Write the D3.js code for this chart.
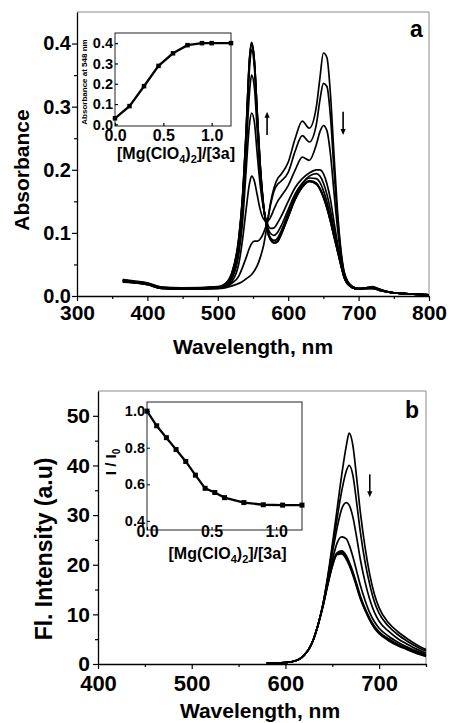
<!DOCTYPE html>
<html>
<head>
<meta charset="utf-8">
<script src="https://cdn.jsdelivr.net/npm/d3@7"></script>
<style>
  body { margin: 0; background: #fff; }
  svg text { font-family: "Liberation Sans", Arial, sans-serif; font-weight: bold; fill: #000; }
</style>
</head>
<body>
<svg id="fig" width="450" height="723"></svg>
<script>
// ---- panel a: absorption spectra, wavelengths (nm)
const absWl = [365, 380, 400, 420, 450, 500, 510, 520, 530, 535, 540, 545, 548, 552, 556, 560, 565, 570, 575, 580,
  585, 590, 600, 610, 620, 630, 640, 645, 650, 655, 660, 665, 670, 675, 680, 690, 700, 710, 720, 730, 750, 800];

const absSpectra = [
  [.022, .021, .018, .012, .011, .012, .013, .016, .020, .023, .027, .031, .034, .040, .048, .060, .080, .112, .148, .172,
   .186, .193, .212, .250, .277, .266, .300, .345, .385, .378, .320, .225, .135, .072, .036, .016, .012, .013, .015, .011, .005, .002],
  [.023, .021, .018, .012, .011, .012, .014, .020, .032, .045, .060, .076, .083, .087, .087, .090, .100, .117, .145, .167,
   .177, .182, .196, .230, .254, .244, .272, .310, .337, .332, .285, .200, .125, .068, .035, .016, .012, .013, .014, .010, .005, .002],
  [.023, .021, .019, .012, .011, .012, .015, .023, .052, .088, .135, .178, .190, .182, .160, .138, .122, .118, .125, .138,
   .150, .158, .175, .200, .220, .215, .240, .260, .270, .262, .225, .165, .108, .063, .033, .015, .012, .013, .014, .010, .005, .002],
  [.024, .022, .019, .013, .012, .013, .016, .027, .068, .115, .195, .272, .290, .275, .225, .178, .138, .116, .107, .108,
   .116, .126, .150, .172, .186, .195, .200, .200, .194, .178, .153, .118, .084, .054, .030, .014, .011, .012, .013, .010, .005, .002],
  [.024, .022, .019, .013, .012, .013, .017, .030, .076, .132, .222, .322, .350, .330, .262, .196, .140, .112, .099, .096,
   .101, .111, .137, .162, .179, .190, .194, .190, .179, .161, .136, .106, .078, .051, .029, .014, .011, .012, .013, .010, .005, .002],
  [.025, .022, .019, .013, .012, .014, .018, .033, .085, .146, .243, .360, .390, .362, .282, .206, .142, .108, .092, .088,
   .092, .103, .131, .158, .177, .187, .186, .180, .167, .149, .126, .100, .075, .050, .029, .014, .011, .012, .012, .009, .005, .002],
  [.025, .023, .020, .013, .012, .014, .018, .035, .090, .152, .252, .372, .400, .370, .288, .210, .143, .106, .090, .085,
   .088, .099, .127, .155, .174, .183, .179, .171, .158, .141, .120, .096, .073, .049, .028, .014, .011, .012, .012, .009, .005, .002],
  [.026, .023, .020, .014, .012, .014, .019, .036, .092, .154, .255, .374, .401, .372, .290, .211, .143, .105, .089, .084,
   .087, .098, .126, .154, .173, .182, .178, .170, .157, .140, .119, .095, .072, .048, .028, .014, .011, .012, .012, .009, .005, .002],
  [.026, .024, .021, .014, .013, .015, .019, .037, .094, .156, .257, .376, .402, .373, .291, .212, .144, .105, .089, .084,
   .086, .097, .125, .153, .172, .181, .177, .169, .156, .139, .118, .094, .071, .048, .028, .014, .011, .012, .012, .009, .005, .002]
];

// inset a: absorbance at 548 nm vs ratio
const ratioA = [0, 0.15, 0.3, 0.45, 0.6, 0.75, 0.9, 1.0, 1.2];
const abs548 = [0.030, 0.090, 0.188, 0.288, 0.350, 0.390, 0.400, 0.400, 0.400];

// ---- panel b: fluorescence spectra
const fluWl = [580, 590, 600, 610, 615, 620, 625, 630, 635, 640, 645, 650, 655, 660, 665, 668, 672, 676, 680, 685,
  690, 695, 700, 710, 720, 730, 740, 750];

const fluSpectra = [
  [0.2, 0.2, 0.3, 0.6, 1.0, 1.8, 3.0, 5.0, 8.0, 12.0, 17.5, 24.0, 31.0, 38.0, 44.0, 46.5, 44.0, 37.5, 30.5, 23.5, 18.0, 14.0, 11.3, 8.3, 6.5, 5.1, 3.9, 2.9],
  [0.2, 0.2, 0.3, 0.6, 1.0, 1.8, 3.0, 5.0, 8.0, 12.0, 17.2, 23.2, 29.2, 34.8, 38.9, 40.0, 38.0, 32.5, 26.5, 20.5, 16.0, 12.5, 10.2, 7.6, 5.9, 4.6, 3.5, 2.6],
  [0.2, 0.2, 0.3, 0.6, 1.0, 1.8, 3.0, 5.0, 8.0, 12.0, 16.8, 22.2, 27.3, 31.2, 32.5, 32.0, 29.6, 25.5, 21.0, 16.5, 13.0, 10.4, 8.6, 6.6, 5.1, 4.0, 3.0, 2.2],
  [0.2, 0.2, 0.3, 0.6, 1.0, 1.8, 3.0, 5.0, 8.0, 11.8, 16.3, 20.8, 24.3, 25.6, 25.2, 24.0, 21.6, 18.7, 15.8, 12.8, 10.3, 8.5, 7.2, 5.6, 4.4, 3.4, 2.6, 1.9],
  [0.2, 0.2, 0.3, 0.6, 1.0, 1.8, 3.0, 5.0, 8.0, 11.7, 16.0, 20.0, 22.4, 22.8, 21.8, 20.6, 18.6, 16.2, 13.7, 11.2, 9.2, 7.6, 6.5, 5.1, 4.0, 3.1, 2.3, 1.7],
  [0.2, 0.2, 0.3, 0.6, 1.0, 1.8, 3.0, 5.0, 8.0, 11.6, 15.9, 19.8, 22.2, 22.5, 21.4, 20.2, 18.2, 15.8, 13.4, 11.0, 9.0, 7.4, 6.3, 4.9, 3.8, 3.0, 2.2, 1.6],
  [0.2, 0.2, 0.3, 0.6, 1.0, 1.8, 3.0, 5.0, 8.0, 11.5, 15.8, 19.6, 22.0, 22.2, 21.1, 19.9, 17.9, 15.5, 13.1, 10.8, 8.8, 7.2, 6.1, 4.7, 3.7, 2.9, 2.1, 1.5]
];

// inset b: I/I0 vs ratio
const ratioB = [0, 0.075, 0.15, 0.225, 0.3, 0.375, 0.45, 0.525, 0.6, 0.75, 0.9, 1.05, 1.2];
const relI = [1.0, 0.92, 0.855, 0.79, 0.725, 0.65, 0.578, 0.555, 0.527, 0.50, 0.488, 0.486, 0.486];

// arrows (data units)
const arrowsA = [{ x: 570, from: 0.255, to: 0.292 }, { x: 678, from: 0.292, to: 0.255 }];
const arrowsB = [{ x: 690, from: 38.2, to: 33.6 }];

const svg = d3.select('#fig');

function mainPanel(o) {
  const x = d3.scaleLinear().domain(o.xDom).range([o.l, o.r]);
  const y = d3.scaleLinear().domain(o.yDom).range([o.b, o.t]);

  svg.append('path')
    .attr('d', `M${o.l},${o.t}H${o.r}V${o.b}`)
    .attr('fill', 'none').attr('stroke', '#8c8c8c').attr('stroke-width', 1);

  // minor ticks
  svg.append('g').attr('transform', `translate(0,${o.b})`)
    .call(d3.axisBottom(x).tickValues(o.xMinor).tickSize(3).tickFormat(''))
    .call(g => g.select('.domain').remove());
  svg.append('g').attr('transform', `translate(${o.l},0)`)
    .call(d3.axisLeft(y).tickValues(o.yMinor).tickSize(3).tickFormat(''))
    .call(g => g.select('.domain').remove());

  const gx = svg.append('g').attr('transform', `translate(0,${o.b})`)
    .call(d3.axisBottom(x).tickValues(o.xTicks).tickSize(5).tickSizeOuter(0).tickPadding(o.xPad).tickFormat(d3.format('d')));
  gx.attr('font-size', o.xFont);
  const gy = svg.append('g').attr('transform', `translate(${o.l},0)`)
    .call(d3.axisLeft(y).tickValues(o.yTicks).tickSize(5).tickSizeOuter(0).tickPadding(o.yPad).tickFormat(o.yFmt));
  gy.attr('font-size', o.yFont);
  svg.selectAll('.domain').attr('stroke-width', 1.3);
  svg.selectAll('.tick line').attr('stroke-width', 1.2);

  const line = d3.line().x(d => x(d[0])).y(d => y(d[1])).curve(d3.curveMonotoneX);
  svg.append('g').selectAll('path')
    .data(o.series)
    .join('path')
    .attr('d', s => line(o.wl.map((w, i) => [w, s[i]])))
    .attr('fill', 'none').attr('stroke', '#000').attr('stroke-width', 1.7);

  // arrows
  o.arrows.forEach(a => {
    const ax = x(a.x), y0 = y(a.from), y1 = y(a.to);
    const dir = y1 < y0 ? -1 : 1;
    svg.append('line').attr('x1', ax).attr('x2', ax).attr('y1', y0).attr('y2', y1 - dir * 3)
      .attr('stroke', '#000').attr('stroke-width', 1.6);
    svg.append('path')
      .attr('d', `M${ax - 2.6},${y1 - dir * 6}L${ax},${y1}L${ax + 2.6},${y1 - dir * 6}Z`)
      .attr('fill', '#000');
  });

  svg.append('text').attr('x', o.tag[0]).attr('y', o.tag[1]).attr('font-size', 23).text(o.tagText);
  svg.append('text').attr('x', (o.l + o.r) / 2 + o.xTitleDx).attr('y', o.xTitleY)
    .attr('text-anchor', 'middle').attr('font-size', 21).text('Wavelength, nm');
  svg.append('text').attr('transform', `translate(${o.yTitleX},${o.yTitleY}) rotate(-90)`)
    .attr('text-anchor', 'middle').attr('font-size', o.yTitleFont).text(o.yTitle);
}

function inset(o) {
  const x = d3.scaleLinear().domain(o.xDom).range([o.l, o.r]);
  const y = d3.scaleLinear().domain(o.yDom).range([o.b, o.t]);
  svg.append('rect').attr('x', o.l).attr('y', o.t).attr('width', o.r - o.l).attr('height', o.b - o.t)
    .attr('fill', '#fff').attr('stroke', '#222').attr('stroke-width', 1);

  const gx = svg.append('g').attr('transform', `translate(0,${o.b})`)
    .call(d3.axisBottom(x).tickValues([0, 0.5, 1.0]).tickSize(-3).tickSizeOuter(0).tickPadding(o.xPad).tickFormat(d3.format('.1f')));
  gx.attr('font-size', 16);
  gx.select('.domain').remove();
  const gy = svg.append('g').attr('transform', `translate(${o.l},0)`)
    .call(d3.axisLeft(y).tickValues(o.yTicks).tickSize(-3).tickSizeOuter(0).tickPadding(2).tickFormat(d3.format('.1f')));
  gy.attr('font-size', 14.5);
  gy.select('.domain').remove();

  const line = d3.line().x(d => x(d[0])).y(d => y(d[1]));
  const pts = o.xs.map((v, i) => [v, o.ys[i]]);
  svg.append('path').attr('d', line(pts)).attr('fill', 'none').attr('stroke', '#000').attr('stroke-width', 2.3);
  svg.append('g').selectAll('rect').data(pts).join('rect')
    .attr('x', d => x(d[0]) - o.m / 2).attr('y', d => y(d[1]) - o.m / 2)
    .attr('width', o.m).attr('height', o.m).attr('fill', '#000');

  const t = svg.append('text').attr('x', (o.l + o.r) / 2 + 3).attr('y', o.titleY)
    .attr('text-anchor', 'middle').attr('font-size', 16);
  t.append('tspan').text('[Mg(ClO');
  t.append('tspan').attr('font-size', 11).attr('dy', 4).text('4');
  t.append('tspan').attr('dy', -4).text(')');
  t.append('tspan').attr('font-size', 11).attr('dy', 4).text('2');
  t.append('tspan').attr('dy', -4).text(']/[3a]');
}

mainPanel({
  l: 77, r: 429, t: 12, b: 296,
  xDom: [300, 800], yDom: [0, 0.45],
  xTicks: d3.range(300, 801, 100), xMinor: d3.range(350, 800, 100),
  yTicks: [0, 0.1, 0.2, 0.3, 0.4], yMinor: [0.05, 0.15, 0.25, 0.35],
  yFmt: d3.format('.1f'), xFont: 21, yFont: 20, xPad: 4, yPad: 1,
  wl: absWl, series: absSpectra, arrows: arrowsA,
  tag: [410, 37], tagText: 'a',
  xTitleDx: 0, xTitleY: 354,
  yTitleX: 29, yTitleY: 170, yTitleFont: 21, yTitle: 'Absorbance'
});

inset({
  l: 115, r: 231, t: 33, b: 126,
  xDom: [0, 1.2], yDom: [-0.008, 0.45], yTicks: [0, 0.1, 0.2, 0.3, 0.4],
  xs: ratioA, ys: abs548, m: 4.5, xPad: 4, titleY: 159
});
svg.append('text').attr('transform', 'translate(87,82) rotate(-90)')
  .attr('text-anchor', 'middle').attr('font-size', 8).text('Absorbance at 548 nm');

mainPanel({
  l: 98, r: 426, t: 391, b: 664,
  xDom: [400, 750], yDom: [0, 55],
  xTicks: d3.range(400, 701, 100), xMinor: d3.range(450, 751, 100),
  yTicks: d3.range(0, 51, 10), yMinor: d3.range(5, 50, 10),
  yFmt: d3.format('d'), xFont: 22, yFont: 21, xPad: 6, yPad: 3,
  wl: fluWl, series: fluSpectra, arrows: arrowsB,
  tag: [405, 418], tagText: 'b',
  xTitleDx: -2, xTitleY: 718,
  yTitleX: 52, yTitleY: 549, yTitleFont: 23, yTitle: 'Fl. Intensity (a.u)'
});

inset({
  l: 147, r: 302, t: 402, b: 530,
  xDom: [0, 1.2], yDom: [0.35, 1.05], yTicks: [0.4, 0.6, 0.8, 1.0],
  xs: ratioB, ys: relI, m: 5, xPad: -4, titleY: 559
});
const it = svg.append('text').attr('transform', 'translate(116,462) rotate(-90)')
  .attr('text-anchor', 'middle').attr('font-size', 15);
it.append('tspan').text('I / I');
it.append('tspan').attr('font-size', 10).attr('dy', 4).text('0');
</script>
</body>
</html>
